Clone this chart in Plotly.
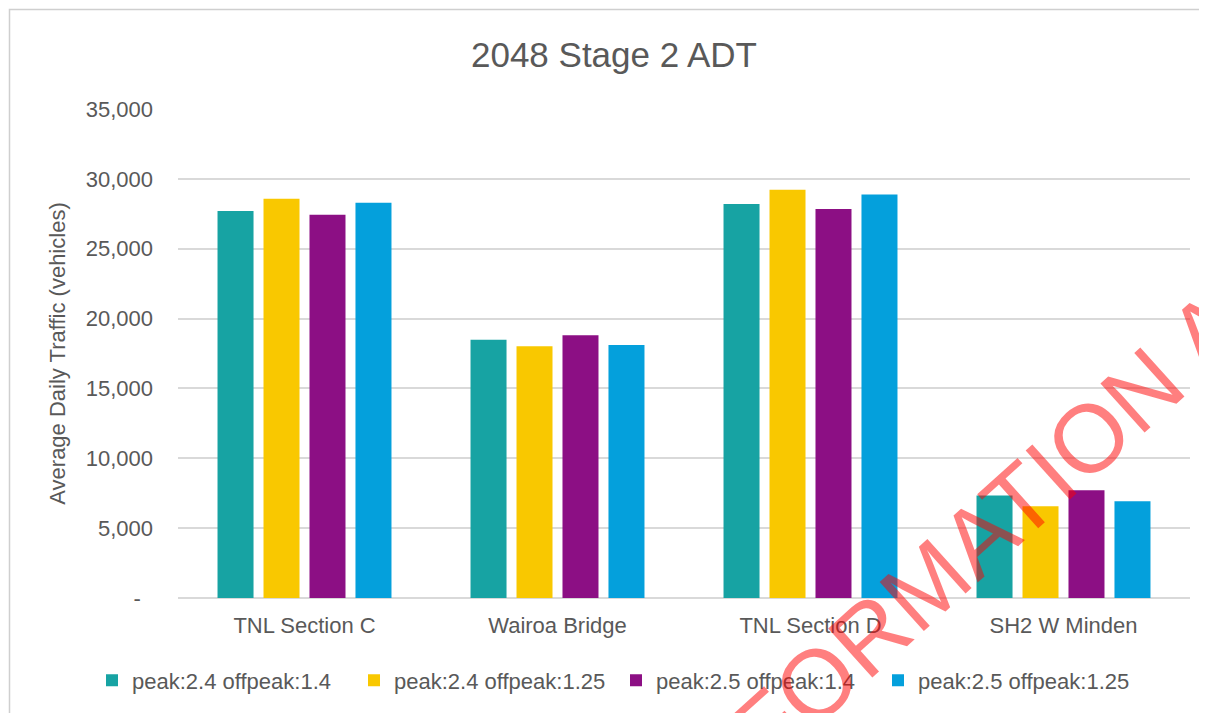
import plotly.graph_objects as go

categories = ["TNL Section C", "Wairoa Bridge", "TNL Section D", "SH2 W Minden"]
series_names = ["peak:2.4 offpeak:1.4", "peak:2.4 offpeak:1.25",
                "peak:2.5 offpeak:1.4", "peak:2.5 offpeak:1.25"]
s1_values = [27700, 18490, 28200, 7330]
s2_values = [28580, 18010, 29220, 6570]
s3_values = [27430, 18800, 27840, 7710]
s4_values = [28290, 18110, 28880, 6920]
series_values = [s1_values, s2_values, s3_values, s4_values]
series_colors = ["#17A3A3", "#F9C800", "#8C0F84", "#04A0DC"]

y_tickvals = [0, 5000, 10000, 15000, 20000, 25000, 30000, 35000]
y_ticktext = ["-\u00a0\u00a0", "5,000", "10,000", "15,000", "20,000", "25,000", "30,000", "35,000"]

FONT = "Liberation Sans, Arial, sans-serif"
GREY = "#595959"

fig = go.Figure()
for name, vals, col in zip(series_names, series_values, series_colors):
    fig.add_trace(go.Bar(x=categories, y=vals, name=name, marker=dict(color=col, line=dict(width=0))))

# page has an 8px body margin: figure origin sits at page (8, 8)
OFF = 8
W, H = 1207 - OFF, 713 - OFF
L = 178 - OFF
R = W - (1190 - OFF)
T = 109 - OFF
B = H - (598.5 - OFF)
pw, ph = W - L - R, H - T - B


def px(xp):
    return (xp - OFF - L) / pw


def py(yp):
    return (H - B - (yp - OFF)) / ph


def cx(xp):
    return (xp - OFF) / W


def cy(yp):
    return 1 - (yp - OFF) / H


fig.update_layout(
    width=W, height=H,
    margin=dict(l=L, r=R, t=T, b=B, autoexpand=False),
    paper_bgcolor="white", plot_bgcolor="white",
    font=dict(family=FONT, color=GREY, size=22),
    barmode="group", bargap=0.273, bargroupgap=0.217,
    title=dict(text="2048 Stage 2 ADT", font=dict(size=35, color=GREY, family=FONT),
               x=cx(614), xref="container", xanchor="center",
               y=cy(55), yref="container", yanchor="middle"),
    showlegend=True,
    legend=dict(orientation="h", xref="paper", x=px(92), xanchor="left",
                yref="paper", y=py(681), yanchor="middle",
                font=dict(size=22, color=GREY, family=FONT), itemwidth=30,
                entrywidth=217, bgcolor="rgba(0,0,0,0)"),
    xaxis=dict(showgrid=False, showline=False, ticks="", tickfont=dict(size=22, color=GREY),
               ticklabelstandoff=12, zeroline=False),
    yaxis=dict(range=[0, 35000], tickvals=y_tickvals, ticktext=y_ticktext,
               showgrid=True, gridcolor="#D9D9D9", gridwidth=1.5,
               zeroline=True, zerolinecolor="#D9D9D9", zerolinewidth=1.5,
               showline=False, ticks="", tickfont=dict(size=22, color=GREY),
               ticklabelstandoff=24,
               title=dict(text="Average Daily Traffic (vehicles)", font=dict(size=22, color=GREY),
                          standoff=14)),
)

# outer chart border (left and top edges visible)
fig.add_shape(type="rect", xref="paper", yref="paper",
              x0=px(9.5), x1=px(1240), y0=py(760), y1=py(9.5),
              line=dict(color="#CFCFCF", width=1.5), fillcolor="rgba(0,0,0,0)", layer="below")

# watermark
fig.add_annotation(text="INFORMATION ACT", xref="paper", yref="paper",
                   x=px(1000), y=py(518), xanchor="center", yanchor="middle",
                   showarrow=False, textangle=-42,
                   font=dict(size=96, color="rgba(255,0,0,0.5)",
                             family="Liberation Sans Narrow, Arial Narrow, Liberation Sans"))

fig.write_html("out.html")
